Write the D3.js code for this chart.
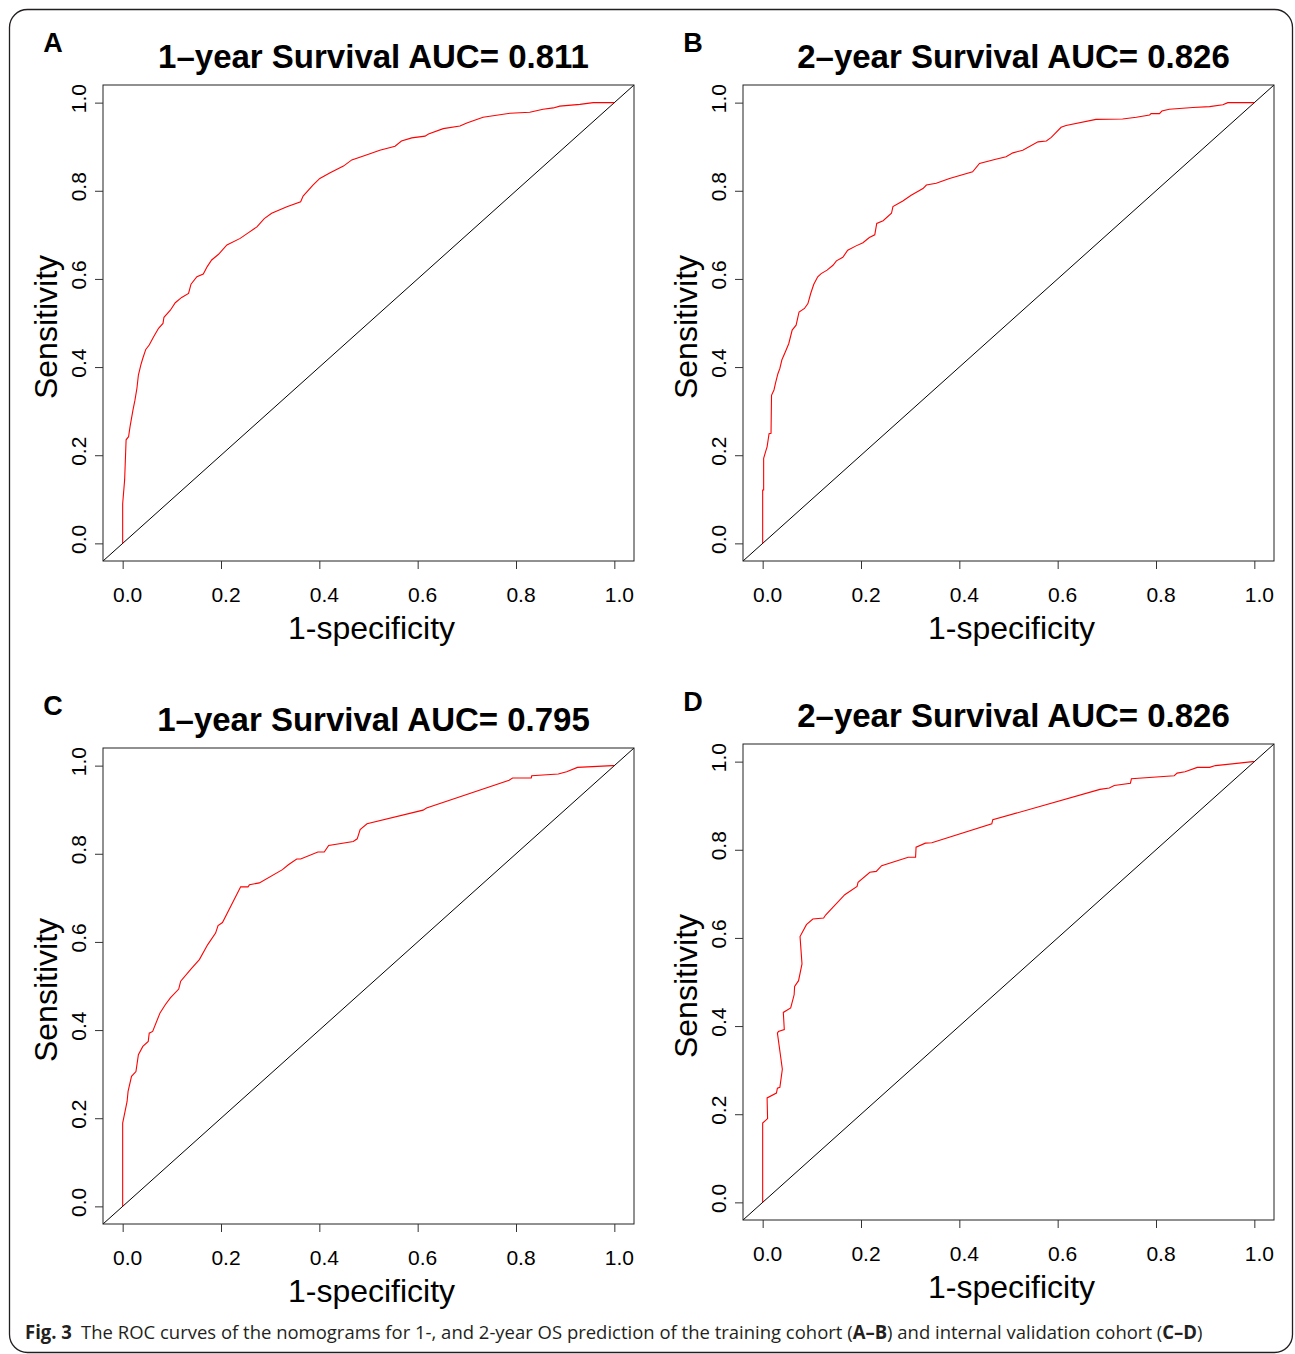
<!DOCTYPE html>
<html>
<head>
<meta charset="utf-8">
<script src="https://cdn.jsdelivr.net/npm/d3@7"></script>
<style>
  body { margin: 0; background: #fff; }
  svg text { font-family: "Liberation Sans", Arial, Helvetica, sans-serif; fill: #000; }
  svg text.caption { font-family: "Open Sans", "Noto Sans", sans-serif; fill: #231f20; }
</style>
</head>
<body>
<script>
const ticks = [0, 0.2, 0.4, 0.6, 0.8, 1.0];
const tickLabels = ["0.0", "0.2", "0.4", "0.6", "0.8", "1.0"];
const panelLetters = ["A", "B", "C", "D"];
const panelTitles = [
  "1\u2013year Survival AUC= 0.811",
  "2\u2013year Survival AUC= 0.826",
  "1\u2013year Survival AUC= 0.795",
  "2\u2013year Survival AUC= 0.826",
];

// panel A: training cohort, 1-year
const fprA = [0, 0, 0.004, 0.007, 0.012, 0.015, 0.021, 0.025, 0.029, 0.032, 0.037, 0.041, 0.047, 0.054, 0.063, 0.073, 0.082, 0.084, 0.097, 0.107, 0.12, 0.134, 0.139, 0.151, 0.164, 0.172, 0.181, 0.195, 0.212, 0.239, 0.256, 0.273, 0.288, 0.303, 0.334, 0.362, 0.367, 0.387, 0.401, 0.422, 0.449, 0.466, 0.50, 0.523, 0.554, 0.567, 0.588, 0.615, 0.622, 0.652, 0.686, 0.70, 0.733, 0.788, 0.828, 0.855, 0.876, 0.889, 0.93, 0.957, 1.0];
const sensA = [0, 0.09, 0.144, 0.235, 0.242, 0.265, 0.303, 0.325, 0.352, 0.382, 0.405, 0.42, 0.44, 0.45, 0.469, 0.488, 0.499, 0.513, 0.529, 0.546, 0.558, 0.567, 0.588, 0.605, 0.611, 0.628, 0.643, 0.656, 0.677, 0.692, 0.705, 0.718, 0.737, 0.749, 0.764, 0.775, 0.788, 0.813, 0.828, 0.841, 0.856, 0.87, 0.883, 0.892, 0.901, 0.913, 0.92, 0.924, 0.929, 0.941, 0.947, 0.954, 0.967, 0.976, 0.978, 0.985, 0.988, 0.992, 0.996, 1.0, 1.0];

// panel B: training cohort, 2-year
const fprB = [0, 0, 0.002, 0.002, 0.006, 0.009, 0.013, 0.017, 0.018, 0.023, 0.026, 0.031, 0.035, 0.039, 0.046, 0.053, 0.06, 0.068, 0.074, 0.085, 0.092, 0.098, 0.104, 0.112, 0.119, 0.131, 0.143, 0.15, 0.163, 0.173, 0.19, 0.204, 0.217, 0.228, 0.232, 0.245, 0.262, 0.265, 0.285, 0.302, 0.326, 0.333, 0.353, 0.38, 0.427, 0.441, 0.472, 0.495, 0.509, 0.529, 0.56, 0.577, 0.587, 0.607, 0.617, 0.678, 0.732, 0.76, 0.787, 0.79, 0.807, 0.812, 0.827, 0.875, 0.909, 0.936, 0.946, 0.997, 1.0];
const sensB = [0, 0.121, 0.121, 0.193, 0.208, 0.219, 0.249, 0.25, 0.336, 0.348, 0.363, 0.385, 0.397, 0.416, 0.434, 0.453, 0.484, 0.495, 0.525, 0.533, 0.544, 0.568, 0.588, 0.605, 0.612, 0.62, 0.631, 0.641, 0.649, 0.665, 0.675, 0.682, 0.694, 0.70, 0.726, 0.732, 0.749, 0.764, 0.777, 0.79, 0.805, 0.813, 0.817, 0.828, 0.843, 0.862, 0.871, 0.877, 0.886, 0.892, 0.911, 0.913, 0.921, 0.944, 0.948, 0.962, 0.963, 0.967, 0.972, 0.975, 0.975, 0.981, 0.985, 0.989, 0.991, 0.995, 1.0, 1.0, 1.0];

// panel C: internal validation, 1-year
const fprC = [0, 0, 0.009, 0.011, 0.018, 0.027, 0.032, 0.041, 0.052, 0.054, 0.061, 0.076, 0.087, 0.097, 0.114, 0.118, 0.141, 0.156, 0.173, 0.189, 0.194, 0.203, 0.24, 0.255, 0.258, 0.278, 0.325, 0.337, 0.354, 0.362, 0.397, 0.41, 0.419, 0.469, 0.477, 0.483, 0.497, 0.611, 0.618, 0.786, 0.793, 0.831, 0.832, 0.886, 0.903, 0.925, 0.996, 1.0];
const sensC = [0, 0.189, 0.238, 0.261, 0.295, 0.306, 0.344, 0.363, 0.374, 0.393, 0.397, 0.439, 0.458, 0.473, 0.493, 0.511, 0.541, 0.56, 0.594, 0.62, 0.637, 0.644, 0.725, 0.725, 0.73, 0.734, 0.764, 0.775, 0.788, 0.788, 0.804, 0.804, 0.819, 0.828, 0.834, 0.855, 0.868, 0.899, 0.904, 0.967, 0.972, 0.972, 0.977, 0.981, 0.986, 0.996, 1.0, 1.0];

// panel D: internal validation, 2-year
const fprD = [0, 0, 0.01, 0.009, 0.028, 0.03, 0.035, 0.04, 0.037, 0.03, 0.032, 0.044, 0.042, 0.057, 0.064, 0.065, 0.073, 0.08, 0.076, 0.089, 0.102, 0.124, 0.128, 0.167, 0.192, 0.194, 0.218, 0.231, 0.242, 0.296, 0.311, 0.312, 0.331, 0.344, 0.466, 0.468, 0.686, 0.705, 0.715, 0.748, 0.75, 0.837, 0.843, 0.859, 0.884, 0.909, 0.921, 0.997, 1.0];
const sensD = [0, 0.18, 0.19, 0.237, 0.248, 0.259, 0.261, 0.302, 0.327, 0.384, 0.388, 0.392, 0.431, 0.441, 0.471, 0.49, 0.503, 0.541, 0.603, 0.63, 0.643, 0.645, 0.652, 0.698, 0.717, 0.726, 0.749, 0.751, 0.764, 0.783, 0.783, 0.806, 0.815, 0.816, 0.859, 0.868, 0.937, 0.94, 0.946, 0.951, 0.961, 0.968, 0.974, 0.977, 0.987, 0.987, 0.991, 1.0, 1.0];

const curves = [[fprA, sensA], [fprB, sensB], [fprC, sensC], [fprD, sensD]];

const canvass = { width: 1295, height: 1354 };

// plot box of each panel (pixel frame)
const boxes = [
  { left: 103, right: 634, top: 85, bottom: 561 },
  { left: 743, right: 1274, top: 85, bottom: 561 },
  { left: 103, right: 634, top: 748, bottom: 1224 },
  { left: 743, right: 1274, top: 744, bottom: 1220 },
];

const svg = d3
  .select("body")
  .append("svg")
  .attr("width", canvass.width)
  .attr("height", canvass.height);

// outer rounded frame of the figure
svg
  .append("rect")
  .attr("x", 9.5)
  .attr("y", 9.5)
  .attr("width", 1283)
  .attr("height", 1343)
  .attr("rx", 18)
  .attr("fill", "none")
  .attr("stroke", "#231f20")
  .attr("stroke-width", 1.3);

const drawPanel = (i) => {
  const b = boxes[i];
  const [fpr, sens] = curves[i];
  const g = svg.append("g");

  const xScale = d3.scaleLinear().domain([-0.04, 1.04]).range([b.left, b.right]);
  const yScale = d3.scaleLinear().domain([-0.04, 1.04]).range([b.bottom, b.top]);

  // diagonal reference line
  g.append("line")
    .attr("x1", xScale(-0.04))
    .attr("y1", yScale(-0.04))
    .attr("x2", xScale(1.04))
    .attr("y2", yScale(1.04))
    .attr("stroke", "#000")
    .attr("stroke-width", 1);

  const line = d3
    .line()
    .x((d) => xScale(d[0]))
    .y((d) => yScale(d[1]));

  g.append("path")
    .datum(fpr.map((f, k) => [f, sens[k]]))
    .attr("d", line)
    .attr("fill", "none")
    .attr("stroke", "#ff0000")
    .attr("stroke-width", 1.1);

  // box
  g.append("rect")
    .attr("x", b.left)
    .attr("y", b.top)
    .attr("width", b.right - b.left)
    .attr("height", b.bottom - b.top)
    .attr("fill", "none")
    .attr("stroke", "#222")
    .attr("stroke-width", 1);

  // axes
  const xAxis = g
    .append("g")
    .attr("transform", `translate(0,${b.bottom})`)
    .call(d3.axisBottom(xScale).tickValues(ticks).tickSize(8).tickSizeOuter(0).tickFormat(""));
  xAxis.select(".domain").remove();
  xAxis.selectAll("line").attr("stroke", "#333");

  const yAxis = g
    .append("g")
    .attr("transform", `translate(${b.left},0)`)
    .call(d3.axisLeft(yScale).tickValues(ticks).tickSize(8).tickSizeOuter(0).tickFormat(""));
  yAxis.select(".domain").remove();
  yAxis.selectAll("line").attr("stroke", "#333");

  g.selectAll(".xlab")
    .data(ticks)
    .enter()
    .append("text")
    .attr("x", (d) => xScale(d) + 5)
    .attr("y", b.bottom + 41)
    .attr("text-anchor", "middle")
    .attr("font-size", 21)
    .text((d, k) => tickLabels[k]);

  g.selectAll(".ylab")
    .data(ticks)
    .enter()
    .append("text")
    .attr("transform", (d) => `translate(${b.left - 17},${yScale(d) - 4}) rotate(-90)`)
    .attr("text-anchor", "middle")
    .attr("font-size", 21)
    .text((d, k) => tickLabels[k]);

  // axis titles
  g.append("text")
    .attr("x", (b.left + b.right) / 2 + 3)
    .attr("y", b.bottom + 78)
    .attr("text-anchor", "middle")
    .attr("font-size", 32)
    .text("1-specificity");

  g.append("text")
    .attr("transform", `translate(${b.left - 46},${(b.top + b.bottom) / 2 + 4}) rotate(-90)`)
    .attr("text-anchor", "middle")
    .attr("font-size", 32)
    .text("Sensitivity");

  // title and panel letter
  g.append("text")
    .attr("x", (b.left + b.right) / 2 + 5)
    .attr("y", b.top - 17)
    .attr("text-anchor", "middle")
    .attr("font-size", 33)
    .attr("font-weight", "bold")
    .text(panelTitles[i]);

  g.append("text")
    .attr("x", b.left - 50)
    .attr("y", b.top - 33)
    .attr("text-anchor", "middle")
    .attr("font-size", 27)
    .attr("font-weight", "bold")
    .text(panelLetters[i]);
};

boxes.forEach((b, i) => drawPanel(i));

// figure caption, squeezed horizontally to the width of the original
const caption = svg
  .append("text")
  .attr("class", "caption")
  .attr("font-size", 19);
const parts = [
  ["Fig. 3", true],
  ["\u2002The ROC curves of the nomograms for 1-, and 2-year OS prediction of the training cohort (", false],
  ["A\u2013B", true],
  [") and internal validation cohort (", false],
  ["C\u2013D", true],
  [")", false],
];
parts.forEach(([t, bold]) => {
  caption
    .append("tspan")
    .attr("font-weight", bold ? "bold" : "normal")
    .text(t);
});
const natural = caption.node().getComputedTextLength();
caption.attr("transform", `translate(25,1339) scale(${1178 / natural},1)`);
</script>
</body>
</html>
